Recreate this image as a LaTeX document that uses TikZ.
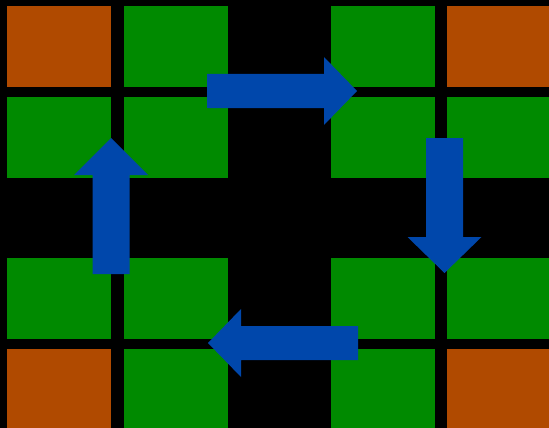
\documentclass[tikz,border=0pt]{standalone}
\usetikzlibrary{calc}

\definecolor{tileorange}{RGB}{176,74,0}
\definecolor{tilegreen}{RGB}{0,138,0}
\definecolor{arrowblue}{RGB}{0,71,171}

% block arrow: start, angle, shaft length, head length, shaft half width, head half width
\newcommand{\flowarrow}[6]{%
  \fill[arrowblue, shift={#1}, rotate=#2]
    (0,-#5) -- (#3,-#5) -- (#3,-#6) -- ({#3+#4},0) -- (#3,#6) -- (#3,#5) -- (0,#5) -- cycle;}

\tikzset{tile/.style={fill=tilegreen}, corner/.style={fill=tileorange}}

\begin{document}
\begin{tikzpicture}[x=1pt, y=-1pt]

  % Background
  \useasboundingbox (0,0) rectangle (549,428);
  \fill[black] (0,0) rectangle (549,428);
  \clip (0,0) rectangle (549,428);

  %-------------------------
  % Tiles
  %-------------------------
  \foreach \x in {7,124,331,447}
    \foreach \y in {6,97,258,349}
      \path[tile] (\x,\y) rectangle ++(104,81);

  % corner tiles
  \foreach \x/\y in {7/6, 447/6, 7/349, 447/349}
    \path[corner] (\x,\y) rectangle ++(104,81);

  %-------------------------
  % Arrows (clockwise cycle)
  %-------------------------
  \flowarrow{(207,91)}{0}{117}{33}{17}{34}
  \flowarrow{(444.5,138)}{-90}{99}{36}{18.5}{37}
  \flowarrow{(358,343)}{180}{117}{33}{17}{34}
  \flowarrow{(111,274)}{90}{99}{37}{18.5}{37}

\end{tikzpicture}
\end{document}
